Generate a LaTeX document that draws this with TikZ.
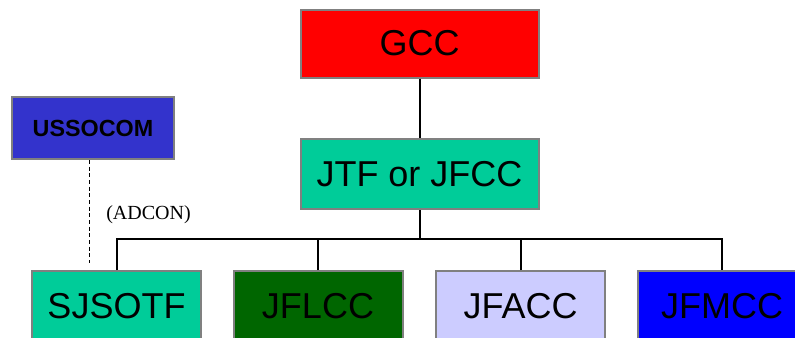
\documentclass[tikz,border=0pt]{standalone}
\usepackage{fontspec}
\setmainfont{Liberation Sans}
\newfontfamily\adconfont{Liberation Serif}
\definecolor{gccred}{HTML}{FF0000}
\definecolor{jtfgreen}{HTML}{00CC99}
\definecolor{socomblue}{HTML}{3333CC}
\definecolor{landgreen}{HTML}{006600}
\definecolor{airlilac}{HTML}{CCCCFF}
\definecolor{seablue}{HTML}{0000FF}
\definecolor{rimgray}{HTML}{808080}
\begin{document}
\begin{tikzpicture}[x=0.75pt, y=-0.75pt,
    box/.style={draw=rimgray, line width=1.5pt, inner sep=0pt,
      font=\fontsize{27}{30}\selectfont},
    topbox/.style={box, minimum width=178.5pt, minimum height=51pt},
    cmdbox/.style={box, minimum width=126.75pt, minimum height=52.5pt},
    link/.style={line width=1.5pt}]
    \useasboundingbox (0, 0) rectangle (795, 337);
    \clip (0, 0) rectangle (795, 337);

    % ---------------------------------------------
    % command chain on top
    \node[topbox, fill=gccred] (gcc) at (419.5, 43.5) {GCC};
    \node[topbox, fill=jtfgreen, minimum height=52.5pt] (jtf) at (419.5, 174) {JTF or JFCC};
    \draw[link] (gcc) -- (jtf);

    % ---------------------------------------------
    % USSOCOM off to the side
    \node[box, fill=socomblue, minimum width=121.5pt, minimum height=46.5pt,
      font=\fontsize{17.5}{20}\selectfont\bfseries] (ussocom) at (93, 128) {USSOCOM};

    % ---------------------------------------------
    % component commands
    \node[cmdbox, fill=jtfgreen] (sjsotf) at (116.5, 306) {SJSOTF};
    \node[cmdbox, fill=landgreen] (jflcc) at (318, 306) {JFLCC};
    \node[cmdbox, fill=airlilac] (jfacc) at (520.5, 306) {JFACC};
    \node[cmdbox, fill=seablue] (jfmcc) at (722, 306) {JFMCC};

    % bus from JTF down to the components
    \coordinate (bus) at (0, 239);
    \draw[link] (jtf) -- (jtf |- bus);
    \draw[link] (sjsotf.north) |- (jfmcc.north |- bus) -- (jfmcc.north);
    \draw[link] (jflcc) -- (jflcc.north |- bus);
    \draw[link] (jfacc) -- (jfacc.north |- bus);

    % ADCON tie
    \draw[line width=0.75pt, dash pattern=on 3pt off 2pt]
      ([xshift=-3pt]ussocom.south) -- ([xshift=-3pt,yshift=5pt]ussocom.south |- sjsotf.north);
    \node[font=\adconfont\fontsize{15}{18}\selectfont] (adcon) at (148.5, 215) {(ADCON)};

  \end{tikzpicture}
\end{document}
